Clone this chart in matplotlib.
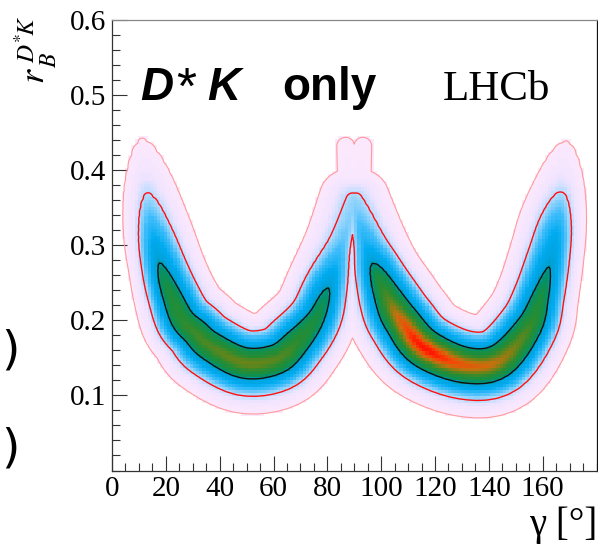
import numpy as np
import matplotlib
matplotlib.use("Agg")
import matplotlib.pyplot as plt
from matplotlib.colors import LinearSegmentedColormap

# floor of the -2 delta lnL valley
# gamma [deg], r_B, delta chi2 on the floor, width factor inside / outside of the bend
left_gamma = [10.5, 12.8, 15.2, 18.5, 22.2, 26.0, 31.0, 36.4, 48.8, 61.0, 68.5, 75.9, 80.4, 85.5, 90.0]
left_r = [0.460, 0.375, 0.315, 0.265, 0.230, 0.200, 0.183, 0.166, 0.1435, 0.148, 0.170, 0.203, 0.243, 0.300, 0.360]
left_chi2 = [13.5, 6.6, 3.6, 2.0, 1.4, 1.15, 1.0, 0.9, 0.75, 0.85, 1.1, 1.6, 2.3, 4.7, 5.6]
left_w_in = [0.9, 0.9, 0.95, 0.95, 0.95, 1.0, 1.0, 1.0, 1.0, 1.0, 1.0, 0.95, 0.95, 1.0, 1.0]
left_w_out = [0.75, 0.7, 0.7, 0.7, 0.78, 0.85, 0.92, 1.0, 1.0, 1.0, 0.95, 0.85, 0.7, 0.57, 0.57]

right_gamma = [90.0, 94.3, 98.2, 103.5, 108.0, 116.0, 131.0, 144.0, 155.0, 159.5, 163.3, 165.6, 167.4, 169.3]
right_r = [0.360, 0.300, 0.262, 0.222, 0.197, 0.163, 0.1405, 0.146, 0.190, 0.232, 0.285, 0.330, 0.380, 0.455]
right_chi2 = [5.6, 3.6, 1.7, 0.7, 0.3, 0.0, 0.3, 0.5, 1.0, 1.6, 2.6, 3.9, 6.9, 13.5]
right_w_in = [1.0, 1.0, 0.95, 1.0, 1.0, 1.0, 1.0, 1.0, 1.0, 0.95, 0.95, 0.95, 0.9, 0.9]
right_w_out = [0.57, 0.57, 0.72, 0.92, 1.0, 1.0, 1.0, 1.0, 0.88, 0.78, 0.72, 0.7, 0.7, 0.75]

# the two thin spikes sitting on top of gamma = 90
spike_a_gamma = [89.2, 86.8]
spike_a_r = [0.365, 0.432]
spike_a_chi2 = [10.5, 11.2]
spike_b_gamma = [90.8, 93.2]
spike_b_r = [0.365, 0.432]
spike_b_chi2 = [10.5, 11.2]

levels = [2.30, 6.18, 11.83]
level_colors = ["#ff9a9a", "#ff1010", "#111111"]

x_ticks = [0, 20, 40, 60, 80, 100, 120, 140, 160]
y_ticks = [0.1, 0.2, 0.3, 0.4, 0.5, 0.6]

SX, SY = 2.692, 750.0   # picture pixels per degree / per unit of r_B
SIGMA, POW = 11.7, 1.65


def smooth(points, n=6):
    # catmull-rom through the read points
    P = np.asarray(points, float)
    P = np.vstack([P[0], P, P[-1]])
    out = []
    t = np.linspace(0, 1, n, endpoint=False)[:, None]
    for i in range(1, len(P) - 2):
        p0, p1, p2, p3 = P[i - 1], P[i], P[i + 1], P[i + 2]
        seg = 0.5 * (2 * p1 + (-p0 + p2) * t + (2 * p0 - 5 * p1 + 4 * p2 - p3) * t ** 2
                     + (-p0 + 3 * p1 - 3 * p2 + p3) * t ** 3)
        out.append(seg)
    out.append(P[-2][None, :])
    return np.vstack(out)


def valley(G, R, gam, rr, c2, w_in=None, w_out=None):
    n = len(gam)
    w_in = np.ones(n) if w_in is None else w_in
    w_out = np.ones(n) if w_out is None else w_out
    pts = smooth(np.column_stack([np.asarray(gam) * SX, np.asarray(rr) * SY, c2, w_in, w_out]))
    X, Y = G * SX, R * SY
    best = np.full(G.shape, np.inf)
    for a, b in zip(pts[:-1], pts[1:]):
        dx, dy = b[0] - a[0], b[1] - a[1]
        seg_len = np.hypot(dx, dy)
        t = np.clip(((X - a[0]) * dx + (Y - a[1]) * dy) / seg_len ** 2, 0, 1)
        d = np.hypot(X - a[0] - t * dx, Y - a[1] - t * dy)
        # +1 on the inner side of the bend, -1 outside, blended round the ends
        side = (dx * (Y - a[1]) - dy * (X - a[0])) / (seg_len * np.maximum(d, 1e-6))
        wi = a[3] + t * (b[3] - a[3])
        wo = a[4] + t * (b[4] - a[4])
        w = 0.5 * (wi + wo) + 0.5 * (wi - wo) * np.clip(side, -1, 1)
        val = a[2] + t * (b[2] - a[2]) + (d / (SIGMA * w)) ** POW
        best = np.minimum(best, val)
    return best


def chi2_map(G, R):
    m = valley(G, R, left_gamma, left_r, left_chi2, left_w_in, left_w_out)
    m = np.minimum(m, valley(G, R, right_gamma, right_r, right_chi2, right_w_in, right_w_out))
    m = np.minimum(m, valley(G, R, spike_a_gamma, spike_a_r, spike_a_chi2))
    m = np.minimum(m, valley(G, R, spike_b_gamma, spike_b_r, spike_b_chi2))
    return m


cmap = LinearSegmentedColormap.from_list("lhcb", [
    (0.00, (0.99, 0.91, 0.99)),
    (0.02, (0.93, 0.89, 1.00)),
    (0.045, (0.70, 0.86, 1.00)),
    (0.10, (0.25, 0.74, 0.98)),
    (0.18, (0.00, 0.67, 0.94)),
    (0.29, (0.00, 0.63, 0.85)),
    (0.34, (0.00, 0.57, 0.45)),
    (0.42, (0.08, 0.56, 0.28)),
    (0.55, (0.15, 0.55, 0.20)),
    (0.68, (0.40, 0.52, 0.10)),
    (0.80, (0.78, 0.44, 0.05)),
    (0.90, (0.96, 0.28, 0.03)),
    (1.00, (1.00, 0.06, 0.00)),
])

fig = plt.figure(figsize=(5.98, 5.44), dpi=100)
ax = fig.add_axes([112 / 598, 1 - 470.5 / 544, 484.5 / 598, 450.5 / 544])

# binned likelihood
gx = np.linspace(0, 180, 151)
gy = np.linspace(0, 0.6, 141)
GC, RC = np.meshgrid(0.5 * (gx[1:] + gx[:-1]), 0.5 * (gy[1:] + gy[:-1]))
c2 = chi2_map(GC, RC)
like = np.ma.masked_where(c2 > 12.1, np.exp(-0.5 * c2))
ax.pcolormesh(gx, gy, like, cmap=cmap, vmin=0, vmax=1, shading="flat", rasterized=True)

# contours on a finer grid
fx = np.linspace(0, 180, 541)
fy = np.linspace(0, 0.6, 451)
GF, RF = np.meshgrid(fx, fy)
c2f = chi2_map(GF, RF)
ax.contour(GF, RF, c2f, levels=[levels[0]], colors=[level_colors[2]], linewidths=1.0)
ax.contour(GF, RF, c2f, levels=[levels[1]], colors=[level_colors[1]], linewidths=1.0)
ax.contour(GF, RF, c2f, levels=[levels[2]], colors=[level_colors[0]], linewidths=0.8)

ax.set_xlim(0, 180)
ax.set_ylim(0, 0.6)
ax.set_xticks(x_ticks)
ax.set_yticks(y_ticks)
ax.set_xticks(np.arange(0, 181, 5), minor=True)
ax.set_yticks(np.arange(0, 0.601, 0.02), minor=True)
ax.set_xticklabels([str(v) for v in x_ticks])
ax.set_yticklabels([f"{v:.1f}" for v in y_ticks])
ax.tick_params(which="both", direction="in", top=False, right=False, width=0.8, color="#333333")
ax.tick_params(which="major", length=11, pad=4, labelsize=21)
ax.tick_params(which="minor", length=5.5)
for lab in ax.get_xticklabels() + ax.get_yticklabels():
    lab.set_family("Liberation Serif")
ax.spines["left"].set_color("#333333")
ax.spines["bottom"].set_color("#333333")
ax.spines["top"].set_color("#888888")
ax.spines["right"].set_color("#111111")
for s in ax.spines.values():
    s.set_linewidth(0.9)

# "D* K only", placed piece by piece
title = dict(family="Liberation Sans", fontsize=33, va="baseline", ha="left")
ax.text(10.4, 0.494, "D", weight="bold", style="italic", **title)
ax.text(24.0, 0.488, "*", family="Liberation Sans", fontsize=37, va="baseline", ha="left")
ax.text(35.3, 0.494, "K", weight="bold", style="italic", **title)
ax.text(63.2, 0.494, "only", weight="bold", **title)
ax.text(123, 0.494, "LHCb", family="Liberation Serif", fontsize=31, va="baseline", ha="left")

# y title r_B^{D*K}, built from pieces like the TLatex original
ytitle = dict(rotation=90, rotation_mode="anchor", ha="left", va="baseline", math_fontfamily="stix")
fig.text(44 / 598, 1 - 84 / 544, r"$r$", fontsize=26, **ytitle)
fig.text(56 / 598, 1 - 68 / 544, r"$B$", fontsize=17, **ytitle)
fig.text(35 / 598, 1 - 63 / 544, r"$D^{*}\!K$", fontsize=18, **ytitle)

fig.text(597 / 598, 1 - 535 / 544, "γ [°]", family="Liberation Serif", fontsize=28,
         ha="right", va="baseline")

# pieces of the neighbouring panel's labels that stick in on the left
fig.text(1 / 598, 1 - 351 / 544, ")", family="DejaVu Sans", fontsize=34, ha="left", va="center")
fig.text(1 / 598, 1 - 449 / 544, ")", family="DejaVu Sans", fontsize=34, ha="left", va="center")

fig.savefig("out.png", dpi=100)
